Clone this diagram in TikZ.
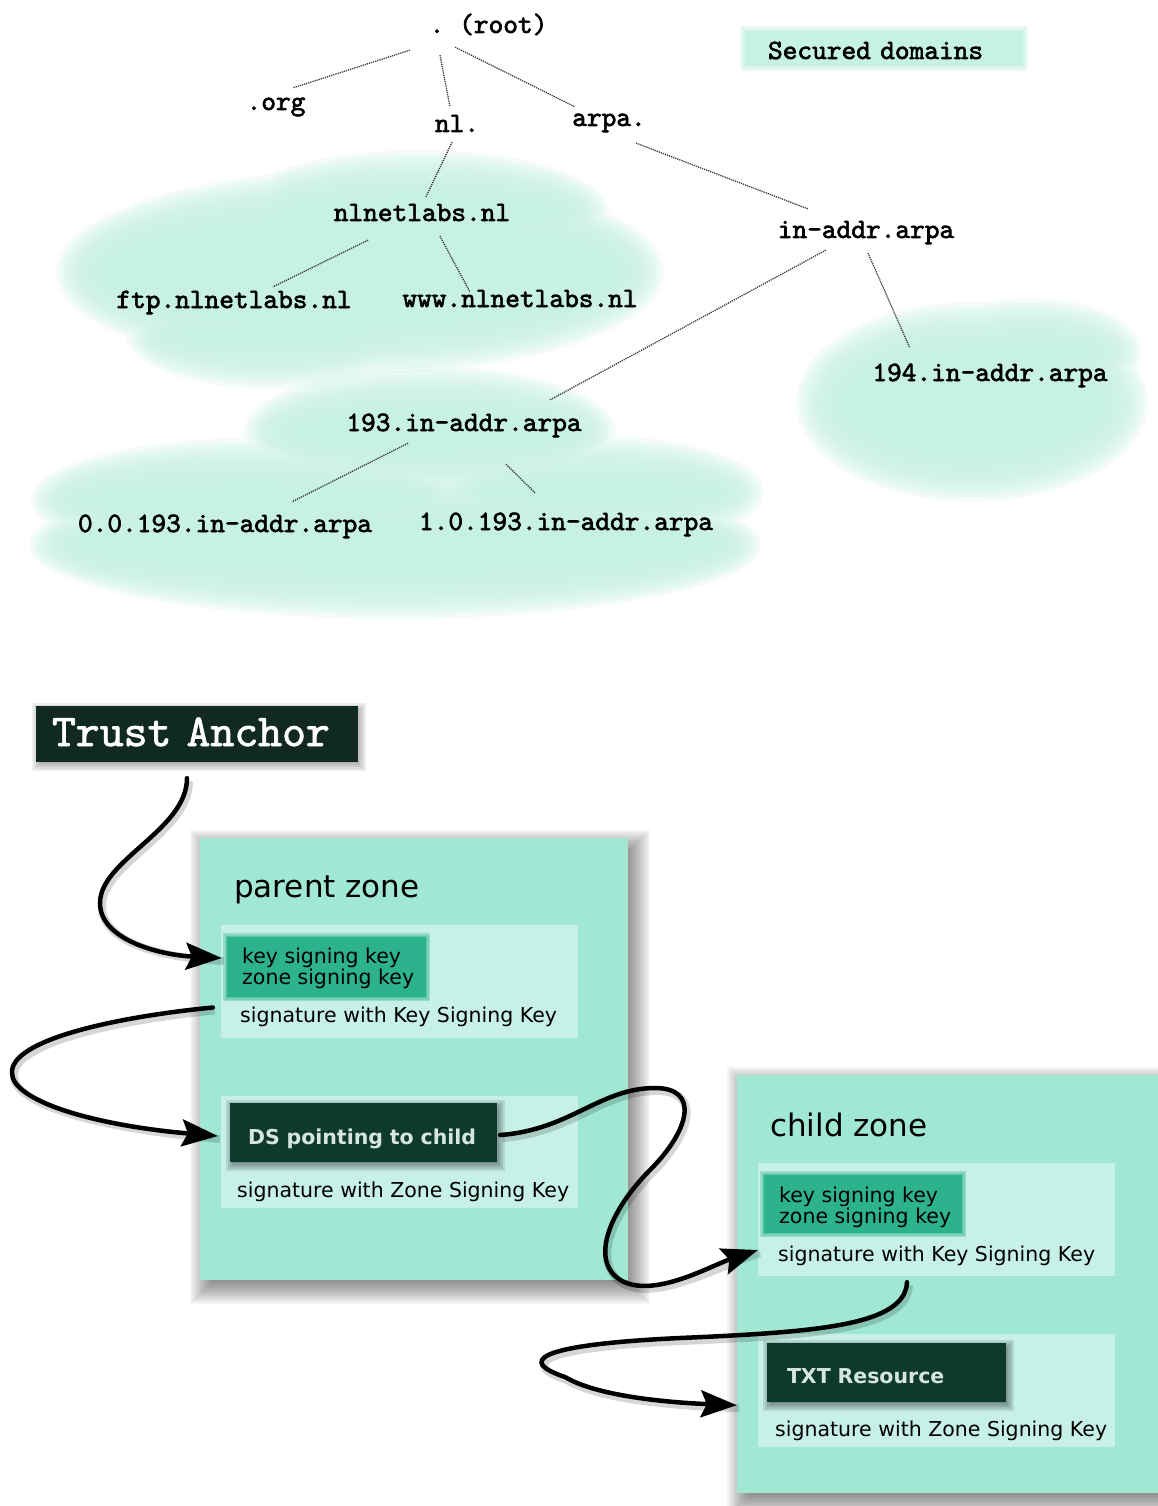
\documentclass[tikz,border=0pt]{standalone}
\usepackage{fontspec}
\newfontfamily\dvs{DejaVu Sans}
\newfontfamily\bmono{lmmono10-regular}[Extension=.otf, FakeBold=2.2]
\newfontfamily\tamono{lmmono10-regular}[Extension=.otf, FakeBold=1.6]
\usetikzlibrary{arrows.meta}
\definecolor{cloud}{RGB}{198,241,229}
\definecolor{zonec}{RGB}{160,232,212}
\definecolor{panelc}{RGB}{199,241,231}
\definecolor{keyc}{RGB}{44,178,140}
\definecolor{darkc}{RGB}{14,58,44}
\definecolor{darktxt}{RGB}{214,230,222}
\definecolor{tac}{RGB}{16,42,32}
% cx cy w h dx dy color opacity range
\newcommand\softbox[9]{%
  \foreach \e in {#9}{\fill[#7,opacity=#8] ({#1+#5-#3/2-(\e)},{#2+#6-#4/2-(\e)}) rectangle ({#1+#5+#3/2+(\e)},{#2+#6+#4/2+(\e)});}}
\begin{document}
\begin{tikzpicture}[x=1pt,y=-1pt,
  lbl/.style={font=\bmono\fontsize{28}{30}\selectfont, inner sep=2pt, text height=17pt, text depth=5.6pt, anchor=base},
  tree/.style={line width=1.3pt, black!80, dash pattern=on 1.2pt off 1pt},
  zonebox/.style={rectangle, fill=zonec, inner sep=0pt},
  panel/.style={rectangle, fill=panelc, inner sep=0pt, minimum width=357pt, minimum height=113pt},
  keybox/.style={rectangle, fill=keyc, inner sep=0pt},
  darkbox/.style={rectangle, fill=darkc, inner ysep=0pt, text=darktxt, font=\dvs\bfseries\fontsize{20.5}{24}\selectfont, align=left, minimum height=59pt},
  small/.style={font=\dvs\fontsize{20.5}{21}\selectfont, inner sep=0pt, anchor=base west},
  title/.style={font=\dvs\fontsize{31}{36}\selectfont, inner sep=0pt, anchor=base west},
  bigarrow/.style={line width=4.5pt, line cap=round, -{Stealth[length=36pt,width=27pt,inset=6pt]},
     preaction={draw=black, opacity=.16, line width=8pt, -, transform canvas={shift={(2pt,-3pt)}}}}]
\useasboundingbox (0,0) rectangle (1158,1506);
\clip (0,0) rectangle (1158,1506);
\fill[white] (0,0) rectangle (1158,1506);

% clouds
\foreach \d in {-24,-20,...,20}{
  \fill[cloud,opacity=.2]
    (360,272) ellipse [x radius={(284+\d)*1pt}, y radius={(82+\d)*1pt}]
    (420,212) ellipse [x radius={(169+\d)*1pt}, y radius={(42+\d)*1pt}]
    (270,335) ellipse [x radius={(124+\d)*1pt}, y radius={(34+\d)*1pt}];
  \fill[cloud,opacity=.2]
    (395,545) ellipse [x radius={(346+\d)*1pt}, y radius={(54+\d)*1pt}]
    (430,432) ellipse [x radius={(166+\d)*1pt}, y radius={(46+\d)*1pt}]
    (250,500) ellipse [x radius={(199+\d)*1pt}, y radius={(42+\d)*1pt}]
    (600,492) ellipse [x radius={(144+\d)*1pt}, y radius={(36+\d)*1pt}];
  \fill[cloud,opacity=.2]
    (972,402) ellipse [x radius={(156+\d)*1pt}, y radius={(80+\d)*1pt}]
    (1030,352) ellipse [x radius={(92+\d)*1pt}, y radius={(34+\d)*1pt}];
}

% secured domains
\softbox{884}{48.5}{278}{35}{0}{0}{cloud}{.35}{1,3,5}
\node[rectangle, fill=cloud, minimum width=278pt, minimum height=35pt, inner xsep=23pt, inner ysep=0pt,
  text width=232pt, align=left, font=\bmono\fontsize{28}{30}\selectfont, text height=22pt, text depth=1pt]
  (secured) at (884,48.5) {Secured domains};

% tree
\node[lbl] (root) at (437,33) {.};
\node[lbl, anchor=base west] (rootlbl) at (457,33) {(root)};
\node[lbl] (org) at (276,110) {.org};
\node[lbl] (nl) at (457,132) {nl.};
\node[lbl] (arpa) at (609,126) {arpa.};
\node[lbl] (nlnet) at (422,221) {nlnetlabs.nl};
\node[lbl] (inaddr) at (866,238) {in-addr.arpa};
\node[lbl] (ftp) at (234,308) {ftp.nlnetlabs.nl};
\node[lbl] (www) at (520,307) {www.nlnetlabs.nl};
\node[lbl] (n194) at (990,381) {194.in-addr.arpa};
\node[lbl] (n193) at (464,431) {193.in-addr.arpa};
\node[lbl] (n0) at (225,532) {0.0.193.in-addr.arpa};
\node[lbl] (n1) at (566,530) {1.0.193.in-addr.arpa};

\draw[tree] ([shift={(-17.6,9.4)}]root.south west) -- ([shift={(-14.4,-3)}]org.north east);
\draw[tree] ([shift={(3,14.4)}]root.south) -- ([shift={(-7,-6)}]nl.north);
\draw[tree] ([shift={(8.6,6.4)}]root.south east) -- ([shift={(4.8,0)}]arpa.north west);
\draw[tree] ([shift={(-5,2.4)}]nl.south) -- ([shift={(4,-5)}]nlnet.north);
\draw[tree] ([shift={(-11.8,9.4)}]arpa.south east) -- ([shift={(32.2,-10)}]inaddr.north west);
\draw[tree] ([shift={(-54,11.4)}]nlnet.south) -- ([shift={(39,-2)}]ftp.north);
\draw[tree] ([shift={(18,7.4)}]nlnet.south) -- ([shift={(69.6,4)}]www.north west);
\draw[tree] ([shift={(50.2,4.4)}]inaddr.south west) -- ([shift={(-33.6,-12)}]n193.north east);
\draw[tree] ([shift={(2,7.4)}]inaddr.south) -- ([shift={(39.6,-14)}]n194.north west);
\draw[tree] ([shift={(-56,4.4)}]n193.south) -- ([shift={(67,-11)}]n0.north);
\draw[tree] ([shift={(42,25.4)}]n193.south) -- ([shift={(-31,-18)}]n1.north);

% trust anchor
\softbox{197}{734}{322}{56}{2}{3}{black}{.07}{-4,-2,...,6}
\node[rectangle, fill=tac, text=white, minimum height=56pt, inner xsep=16pt, inner ysep=0pt, text width=290pt, align=left,
  font=\tamono\fontsize{45.5}{48}\selectfont, text height=30pt, text depth=6pt]
  (ta) at (197,734) {Trust Anchor};

% zones
\softbox{414}{1059}{428}{442}{6}{8}{black}{.045}{-8,-6,...,16}
\node[zonebox, minimum width=428pt, minimum height=442pt] (pzone) at (414,1059) {};
\softbox{951}{1284}{428}{418}{6}{8}{black}{.045}{-8,-6,...,16}
\node[zonebox, minimum width=428pt, minimum height=418pt] (czone) at (951,1284) {};

\node[title] (ptitle) at (234,897) {parent zone};
\node[title] (ctitle) at (770,1136) {child zone};

\node[panel] (ppanel1) at (399.5,981.5) {};
\node[panel, minimum height=112pt] (ppanel2) at (399.5,1152) {};
\node[panel] (cpanel1) at (936.5,1219.5) {};
\node[panel] (cpanel2) at (936.5,1390.5) {};

\softbox{326.5}{967}{199}{60}{0}{0}{keyc}{.3}{1,2.5,4}
\node[keybox, minimum width=199pt, minimum height=60pt] (ksk1) at (326.5,967) {};
\softbox{863}{1204}{198}{58}{0}{0}{keyc}{.3}{1,2.5,4}
\node[keybox, minimum width=198pt, minimum height=58pt] (ksk2) at (863,1204) {};

\softbox{363.5}{1132.5}{267}{59}{2}{3}{black}{.1}{-2,0,2,4,6}
\node[darkbox, inner xsep=18pt, text width=231pt, text height=24pt, text depth=0pt] (ds) at (363.5,1132.5) {DS pointing to child};
\softbox{886.5}{1372.5}{239}{59}{2}{3}{black}{.1}{-2,0,2,4,6}
\node[darkbox, inner xsep=20pt, text width=199pt, text height=23pt, text depth=2pt] (txt) at (886.5,1372.5) {TXT Resource};

\node[small] (ksk1t) at (242,963) {\begin{tabular}[t]{@{}l@{}}key signing key\\zone signing key\end{tabular}};
\node[small] (psig1) at (240,1022) {signature with Key Signing Key};
\node[small] (psig2) at (237,1197) {signature with Zone Signing Key};
\node[small] (ksk2t) at (779,1202) {\begin{tabular}[t]{@{}l@{}}key signing key\\zone signing key\end{tabular}};
\node[small] (csig1) at (778,1261) {signature with Key Signing Key};
\node[small] (csig2) at (775,1436) {signature with Zone Signing Key};

% arrows
\draw[bigarrow] ([shift={(-10,16)}]ta.south) .. controls (187,830) and (100,860) .. (100,903)
   .. controls (100,940) and (160,955) .. ([shift={(-5,-9)}]ksk1.west);
\draw[bigarrow] ([shift={(-8,26)}]ppanel1.west) .. controls (115,1017) and (10,1040) .. (12,1073)
   .. controls (12,1100) and (90,1125) .. ([shift={(-12,3.5)}]ds.west);
\draw[bigarrow] ([shift={(3,2.5)}]ds.east) .. controls (570,1130) and (600,1088) .. (655,1088)
   .. controls (700,1088) and (690,1130) .. (650,1170)
   .. controls (610,1210) and (588,1262) .. (622,1281)
   .. controls (655,1298) and (710,1266) .. ([shift={(0,30.5)}]cpanel1.west);
\draw[bigarrow] ([shift={(-29.5,6)}]cpanel1.south) .. controls (905,1325) and (820,1332) .. (680,1338)
   .. controls (530,1345) and (520,1362) .. (565,1377)
   .. controls (600,1398) and (680,1403) .. ([shift={(-30,3)}]txt.south west);
\end{tikzpicture}
\end{document}
